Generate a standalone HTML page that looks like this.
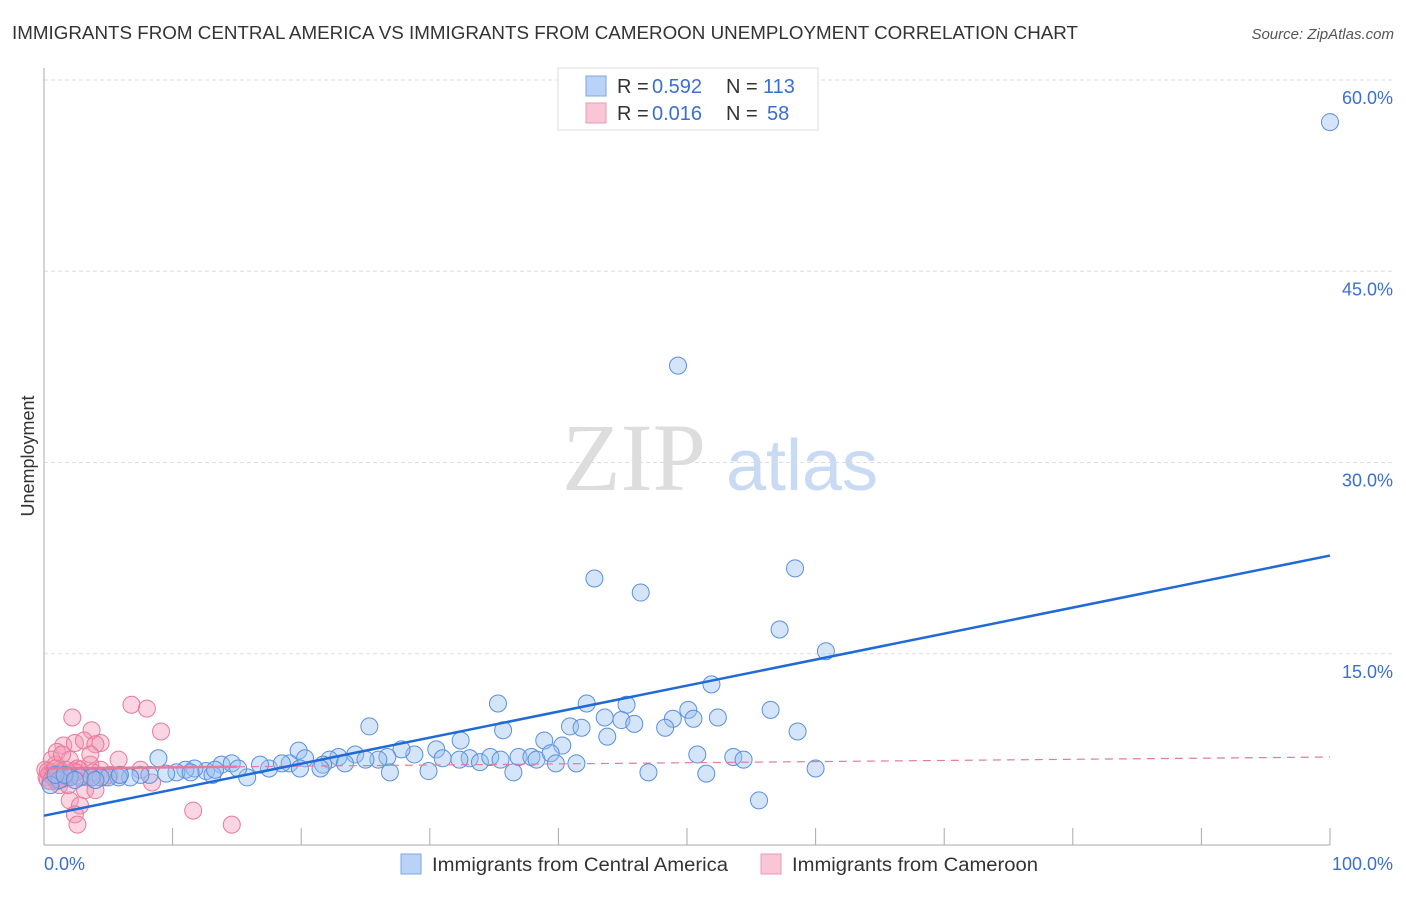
<!DOCTYPE html>
<html><head><meta charset="utf-8"><style>
body{margin:0;background:#fff;font-family:"Liberation Sans",sans-serif}
</style></head><body>
<svg width="1406" height="892" viewBox="0 0 1406 892" xmlns="http://www.w3.org/2000/svg">
<text x="12" y="39" font-size="18" fill="#333" textLength="1066" lengthAdjust="spacingAndGlyphs">IMMIGRANTS FROM CENTRAL AMERICA VS IMMIGRANTS FROM CAMEROON UNEMPLOYMENT CORRELATION CHART</text>
<text x="1394" y="39" font-size="15" fill="#555" font-style="italic" text-anchor="end">Source: ZipAtlas.com</text>
<text x="634" y="490" font-size="96" fill="#ddd" font-family="Liberation Serif,serif" text-anchor="middle">ZIP</text>
<text x="802" y="490" font-size="72" fill="#c9daf4" text-anchor="middle">atlas</text>
<g id="grid"></g>
<g id="axes"></g>
<g id="marks"></g>
<text transform="translate(34,456) rotate(-90)" font-size="18" fill="#333" text-anchor="middle">Unemployment</text>
<g>
<rect x="558" y="68" width="260" height="62" fill="#fff" stroke="#ddd"/>
<rect x="586" y="76" width="20" height="20" fill="#b9d2f5" stroke="#7aa6e6"/>
<rect x="586" y="103" width="20" height="20" fill="#f9c6d5" stroke="#ec9ab4"/>
<text x="617" y="93" font-size="20" fill="#333">R =</text>
<text x="652" y="93" font-size="20" fill="#3a6fd0">0.592</text>
<text x="726" y="93" font-size="20" fill="#333">N =</text>
<text x="763" y="93" font-size="20" fill="#3a6fd0">113</text>
<text x="617" y="120" font-size="20" fill="#333">R =</text>
<text x="652" y="120" font-size="20" fill="#3a6fd0">0.016</text>
<text x="726" y="120" font-size="20" fill="#333">N =</text>
<text x="767" y="120" font-size="20" fill="#3a6fd0">58</text>
</g>
<g>
<rect x="401" y="854" width="20" height="20" fill="#b9d2f5" stroke="#7aa6e6"/>
<text x="432" y="871" font-size="19" fill="#333" textLength="296" lengthAdjust="spacingAndGlyphs">Immigrants from Central America</text>
<rect x="761" y="854" width="20" height="20" fill="#f9c6d5" stroke="#ec9ab4"/>
<text x="792" y="871" font-size="19" fill="#333" textLength="246" lengthAdjust="spacingAndGlyphs">Immigrants from Cameroon</text>
</g>
</svg>
<script>
const yTicks=[15,30,45,60];
const yTickLabels=["15.0%","30.0%","45.0%","60.0%"];
const xTicks=[0,10,20,30,40,50,60,70,80,90,100];
const blueX=[100,49.3,42.8,46.4,58.4,57.2,60.8,51.9,56.5,35.3,42.2,45.3,50.1,52.4,50.5,48.9,43.6,44.9,48.3,45.9,40.9,41.8,43.8,58.6,35.7,25.3,32.4,38.9,40.3,50.8,53.6,54.4,19.8,30.5,31.0,28.8,27.8,26.7,26.0,24.2,22.9,22.2,21.7,20.3,19.1,33.1,33.9,34.7,36.9,37.9,38.3,39.4,39.8,41.4,47.0,51.5,55.6,60.0,36.5,29.9,26.9,21.5,17.5,15.8,8.9,13.8,14.6,15.1,12.6,13.1,11.7,11.0,10.3,9.5,8.2,7.5,6.7,5.8,5.0,4.4,3.7,2.8,2.0,1.2,0.5,0.9,1.6,2.4,4.0,5.9,16.8,18.5,19.9,23.4,25.0,32.3,35.5,11.4,13.3];
const blueY=[56.7,37.6,20.9,19.8,21.7,16.9,15.2,12.6,10.6,11.1,11.1,11.0,10.6,10.0,9.9,9.9,10.0,9.8,9.2,9.5,9.3,9.2,8.5,8.9,9.0,9.3,8.2,8.2,7.8,7.1,6.9,6.7,7.4,7.5,6.8,7.1,7.5,6.9,6.7,7.1,6.9,6.7,6.3,6.8,6.4,6.8,6.5,6.9,6.9,6.9,6.7,7.2,6.4,6.4,5.7,5.6,3.5,6.0,5.7,5.8,5.7,6.0,6.0,5.3,6.8,6.3,6.4,6.0,5.8,5.5,6.0,5.9,5.7,5.6,5.5,5.5,5.3,5.3,5.3,5.3,5.3,5.3,5.3,5.1,4.7,5.5,5.5,5.1,5.1,5.5,6.3,6.4,6.0,6.4,6.7,6.7,6.7,5.7,5.9];
const pinkX=[2.2,6.8,8.0,9.1,3.7,1.5,2.4,1.0,4.4,5.8,3.1,4.0,2.0,1.2,0.5,0.3,0.9,1.6,2.8,3.6,4.4,5.1,3.2,2.0,2.8,2.4,2.6,11.6,14.6,8.4,3.6,1.2,0.1,0.6,1.9,4.7,4.0,5.9,7.5,1.4,3.4,0.4,0.8,1.3,1.8,2.3,3.0,0.2,1.0,2.6,3.8,0.3,0.7,1.1,1.5,2.0,2.5,0.5,1.7,0.9];
const pinkY=[10.0,11.0,10.7,8.9,9.0,7.8,8.0,7.3,8.0,6.7,8.2,7.9,6.7,5.9,5.5,5.1,6.3,5.5,5.9,6.3,5.9,5.5,4.3,3.5,3.1,2.4,1.6,2.7,1.6,4.9,7.1,4.7,5.9,6.7,4.7,5.3,4.3,5.5,5.9,7.1,5.3,5.6,5.2,5.7,5.3,5.8,5.4,5.3,5.0,6.0,5.7,5.8,5.4,5.6,5.2,5.5,5.7,5.0,5.9,6.0];
const blueTrend=[2.3,22.7];
const pinkTrend=[6.0,6.9];
const pinkSolidEnd=15;
const NS="http://www.w3.org/2000/svg";
const X=v=>44+v*12.86, Y=v=>845-v*12.75;
function mk(t,a,p){const e=document.createElementNS(NS,t);for(const k in a)e.setAttribute(k,a[k]);document.getElementById(p).appendChild(e);return e;}
yTicks.forEach((t,i)=>{
 const l=mk('line',{x1:44,x2:1394,y1:Y(t),y2:Y(t),stroke:'#ddd','stroke-dasharray':'4,3'},'grid');
 
 
 const tx=mk('text',{x:1393,y:Y(t)+24,'font-size':18,fill:'#3a6fd0','text-anchor':'end'},'grid');
 tx.textContent=yTickLabels[i];
 
 
});
const ax=mk('line',{x1:44,x2:44,y1:68,y2:845,stroke:'#aaa'},'axes');


const bx=mk('line',{x1:44,x2:1330,y1:845,y2:845,stroke:'#aaa'},'axes');


xTicks.forEach(t=>{const l=mk('line',{x1:X(t),x2:X(t),y1:828,y2:845,stroke:'#aaa'},'axes');
 
 });
const x0=mk('text',{x:44,y:870,'font-size':18,fill:'#3a6fd0'},'axes');x0.textContent='0.0%';


const x1=mk('text',{x:1393,y:870,'font-size':18,fill:'#3a6fd0','text-anchor':'end'},'axes');x1.textContent='100.0%';


pinkX.forEach((v,i)=>{const c=mk('circle',{cx:X(v),cy:Y(pinkY[i]),r:8.5,fill:'rgba(244,150,180,0.4)',stroke:'#e87a9c','stroke-width':1},'marks');
 
 });
blueX.forEach((v,i)=>{const c=mk('circle',{cx:X(v),cy:Y(blueY[i]),r:8.5,fill:'rgba(150,190,240,0.4)',stroke:'#5b8fe0','stroke-width':1},'marks');
 
 });
const py=v=>pinkTrend[0]+(pinkTrend[1]-pinkTrend[0])*v/100;
const pd=mk('line',{x1:X(pinkSolidEnd),y1:Y(py(pinkSolidEnd)),x2:X(100),y2:Y(py(100)),stroke:'#e27c9c','stroke-width':1.2,'stroke-dasharray':'8,6'},'marks');


const ps=mk('line',{x1:X(0),y1:Y(py(0)),x2:X(pinkSolidEnd),y2:Y(py(pinkSolidEnd)),stroke:'#e27c9c','stroke-width':2.5},'marks');


const bt=mk('line',{x1:X(0),y1:Y(blueTrend[0]),x2:X(100),y2:Y(blueTrend[1]),stroke:'#1f6ad6','stroke-width':2.5},'marks');


</script>
</body></html>
